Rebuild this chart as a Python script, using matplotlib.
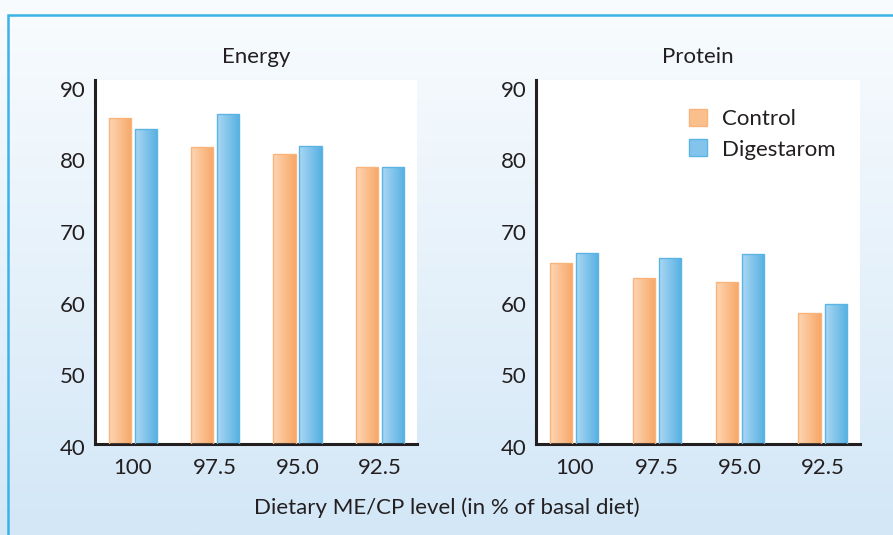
import numpy as np
import matplotlib
matplotlib.use('Agg')
import matplotlib.pyplot as plt
import matplotlib.transforms as mtransforms
from matplotlib.patches import Rectangle, Patch
from matplotlib.colors import LinearSegmentedColormap

plt.rcParams['font.family'] = ['Lato', 'DejaVu Sans']

levels = ['100', '97.5', '95.0', '92.5']
energy_control = [85.5, 81.4, 80.5, 78.7]
energy_digestarom = [83.9, 86.0, 81.6, 78.7]
protein_control = [65.2, 63.2, 62.6, 58.3]
protein_digestarom = [66.6, 65.9, 66.5, 59.6]
yticks = [40, 50, 60, 70, 80, 90]

ctrl_cmap = LinearSegmentedColormap.from_list('ctrl', ['#fdd6b3', '#f8a767'])
dig_cmap = LinearSegmentedColormap.from_list('dig', ['#abd7f3', '#55b0e2'])

fig = plt.figure(figsize=(8.93, 5.35), dpi=100)

# background gradient + frame
bg = fig.add_axes([0, 0, 1, 1], zorder=-10)
grad = np.linspace(0, 1, 256).reshape(-1, 1)
bg_cmap = LinearSegmentedColormap.from_list('bg', ['#f9fcfe', '#d3e7f7'])
bg.imshow(grad, aspect='auto', cmap=bg_cmap, extent=[0, 1, 0, 1], origin='upper')
bg.set_xlim(0, 1)
bg.set_ylim(0, 1)
bg.axis('off')
bg.add_patch(Rectangle((8 / 893, -0.1), 1.2, 1.1 - 14.5 / 535,
                       fill=False, edgecolor='#3bb3e6', linewidth=1.8))

W, H = 893, 535
FS = 16


def gradient_bars(ax, bars, cmap, edge):
    g = np.linspace(0, 1, 64).reshape(1, -1)
    for b in bars:
        x0, y0 = b.get_x(), b.get_y()
        w, h = b.get_width(), b.get_height()
        im = ax.imshow(g, cmap=cmap, aspect='auto', extent=[x0, x0 + w, y0, y0 + h],
                       zorder=2)
        im.set_clip_path(b)
        b.set_facecolor('none')
        b.set_edgecolor(edge)
        b.set_linewidth(1.0)
        b.set_zorder(3)


def panel(rect, title, ctrl, dig, legend=False):
    l, r, t, bt = rect
    ax = fig.add_axes([l / W, 1 - bt / H, (r - l) / W, (bt - t) / H])
    x = np.arange(len(levels))
    w = 0.27
    b1 = ax.bar(x - 0.158, np.array(ctrl) - 40, w, bottom=40)
    b2 = ax.bar(x + 0.158, np.array(dig) - 40, w, bottom=40)
    gradient_bars(ax, b1, ctrl_cmap, '#f9b47c')
    gradient_bars(ax, b2, dig_cmap, '#5cb4e5')
    ax.set_xlim(-0.46, 3.45)
    ax.set_ylim(40, 90.8)
    ax.set_yticks(yticks)
    ax.set_yticklabels([str(v) for v in yticks])
    ax.set_xticks(x)
    ax.set_xticklabels(levels)
    ax.tick_params(length=0, labelsize=FS, colors='#231f20', pad=10)
    ax.tick_params(axis='y', pad=7)
    shift = mtransforms.ScaledTranslation(0, -3 / 100, fig.dpi_scale_trans)
    for lab in ax.get_yticklabels():
        lab.set_transform(lab.get_transform() + shift)
    for s in ['top', 'right']:
        ax.spines[s].set_visible(False)
    for s in ['left', 'bottom']:
        ax.spines[s].set_linewidth(2.2)
        ax.spines[s].set_color('#231f20')
    ax.set_title(title, fontsize=FS, color='#231f20', pad=12)
    if legend:
        handles = [Patch(facecolor='#fbbf8c', edgecolor='#f9b47c', label='Control'),
                   Patch(facecolor='#82c4ec', edgecolor='#5cb4e5', label='Digestarom')]
        ax.legend(handles=handles, loc='upper left', bbox_to_anchor=(0.41, 0.975),
                  frameon=False, fontsize=FS, handlelength=0.8, handleheight=0.8,
                  handletextpad=0.7, labelspacing=0.45, labelcolor='#231f20')
    return ax


panel((95, 417, 80, 444), 'Energy', energy_control, energy_digestarom)
panel((536, 860, 80, 444), 'Protein', protein_control, protein_digestarom, legend=True)

fig.text(447 / W, 1 - 508 / H, 'Dietary ME/CP level (in % of basal diet)',
         ha='center', va='center', fontsize=FS, color='#231f20')

fig.savefig('out.png', dpi=100)
